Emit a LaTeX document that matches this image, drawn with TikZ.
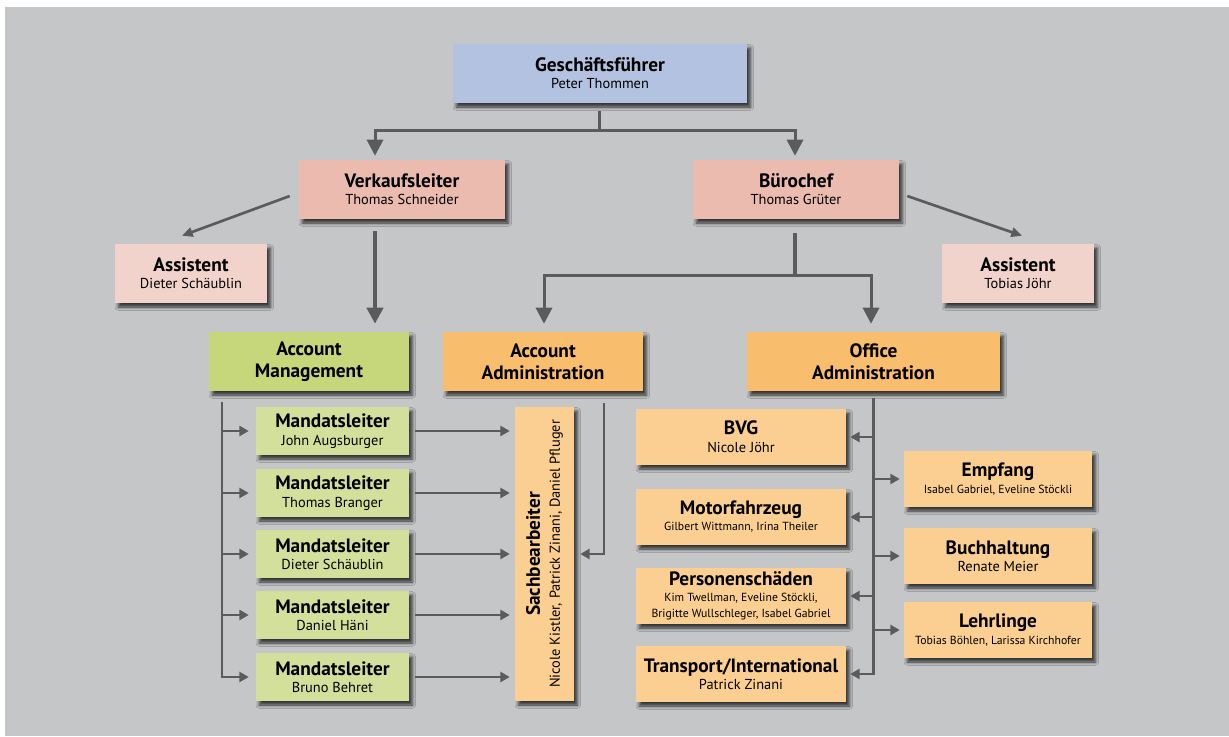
\documentclass[tikz,border=0pt]{standalone}
\usepackage{fontspec}
\setmainfont{PT Sans}
\usetikzlibrary{arrows.meta,calc,shadows.blur}
\definecolor{bgc}{HTML}{C5C6C8}
\definecolor{blueb}{HTML}{B3C2E0}
\definecolor{rose}{HTML}{EBBBB0}
\definecolor{rosel}{HTML}{F2D3CB}
\definecolor{greend}{HTML}{C5D67B}
\definecolor{greenl}{HTML}{D3E09B}
\definecolor{orangd}{HTML}{F8BD6D}
\definecolor{orangl}{HTML}{FBCF91}
\definecolor{linec}{HTML}{5B5B5D}
\newcommand{\ttl}[1]{{\fontsize{14.5}{16.5}\selectfont\bfseries #1}}
\newcommand{\nm}[1]{{\fontsize{10.8}{12}\selectfont #1}}
\newcommand{\sm}[1]{{\fontsize{8.8}{12}\selectfont #1}}
\tikzset{
  box/.style={draw=none, inner sep=0pt, align=center, text=black,
    blur shadow={shadow xshift=2.5pt, shadow yshift=-3pt, shadow opacity=75, shadow blur radius=2.5pt}},
  sz/.style 2 args={minimum width=#1*0.75pt, minimum height=#2*0.75pt},
  conn/.style={draw=linec, line width=2.25pt},
  bigarr/.style={conn, -{Triangle[length=12pt,width=12pt]}},
  midarr/.style={draw=linec, line width=2pt, -{Triangle[length=8pt,width=7pt]}},
  smarr/.style={draw=linec, line width=2pt, -{Triangle[length=7pt,width=7.5pt]}},
}
\begin{document}
\begin{tikzpicture}[x=0.75pt,y=-0.75pt]
\useasboundingbox (0,0) rectangle (1229,736);
\fill[white] (0,0) rectangle (1229,736);
\fill[bgc] (5,7) rectangle (1229,736);

% level 1
\node[box, fill=blueb, sz={294}{59}] (gf) at (600,73.5) {\ttl{Geschäftsführer}\\[0.8pt]\nm{Peter Thommen}};
% level 2
\node[box, fill=rose, sz={206}{59}] (vk) at (402,189.5) {\ttl{Verkaufsleiter}\\[0.8pt]\nm{Thomas Schneider}};
\node[box, fill=rose, sz={206}{59}] (bc) at (796,189.5) {\ttl{Bürochef}\\[0.8pt]\nm{Thomas Grüter}};
\node[box, fill=rosel, sz={152}{59}] (as1) at (191,273.5) {\ttl{Assistent}\\[0.8pt]\nm{Dieter Schäublin}};
\node[box, fill=rosel, sz={152}{59}] (as2) at (1018,273.5) {\ttl{Assistent}\\[0.8pt]\nm{Tobias Jöhr}};
% level 3
\node[box, fill=greend, sz={200}{59}] (am) at (309,361.5) {\ttl{Account}\\[4.5pt]\ttl{Management}};
\node[box, fill=orangd, sz={200}{59}] (aa) at (543,361.5) {\ttl{Account}\\[4.5pt]\ttl{Administration}};
\node[box, fill=orangd, sz={253}{59}] (oa) at (873.5,361.5) {\ttl{Office}\\[4.5pt]\ttl{Administration}};
% Mandatsleiter
\node[box, fill=greenl, sz={153}{48}] (m1) at (332.5,431) {\ttl{Mandatsleiter}\\[1pt]\nm{John Augsburger}};
\node[box, fill=greenl, sz={153}{48}] (m2) at (332.5,493) {\ttl{Mandatsleiter}\\[1pt]\nm{Thomas Branger}};
\node[box, fill=greenl, sz={153}{48}] (m3) at (332.5,554) {\ttl{Mandatsleiter}\\[1pt]\nm{Dieter Schäublin}};
\node[box, fill=greenl, sz={153}{48}] (m4) at (332.5,615) {\ttl{Mandatsleiter}\\[1pt]\nm{Daniel Häni}};
\node[box, fill=greenl, sz={153}{48}] (m5) at (332.5,677) {\ttl{Mandatsleiter}\\[1pt]\nm{Bruno Behret}};
% Sachbearbeiter
\node[box, fill=orangl, sz={59}{294}] (sb) at (544.5,554) {};
\node[align=center, rotate=90, inner sep=0pt] (sbt) at (sb.center) {\ttl{Sachbearbeiter}\\[3pt]\nm{Nicole Kistler, Patrick Zinani, Daniel Pfluger}};
% Office left
\node[box, fill=orangl, sz={210}{56}] (bvg) at (741,437) {\ttl{BVG}\\[1.5pt]\nm{Nicole Jöhr}};
\node[box, fill=orangl, sz={210}{56}] (mf) at (741,517) {\ttl{Motorfahrzeug}\\[0pt]\sm{Gilbert Wittmann, Irina Theiler}};
\node[box, fill=orangl, sz={210}{56}] (ps) at (741,596) {\ttl{Personenschäden}\\[0pt]\sm{Kim Twellman, Eveline Stöckli,}\\[0pt]\sm{Brigitte Wullschleger, Isabel Gabriel}};
\node[box, fill=orangl, sz={210}{56}] (tr) at (741,674) {\ttl{Transport/International}\\[0.8pt]\nm{Patrick Zinani}};
% Office right
\node[box, fill=orangl, sz={188}{56}] (em) at (998,479) {\ttl{Empfang}\\[0.8pt]\sm{Isabel Gabriel, Eveline Stöckli}};
\node[box, fill=orangl, sz={188}{56}] (bh) at (998,556) {\ttl{Buchhaltung}\\[0.8pt]\nm{Renate Meier}};
\node[box, fill=orangl, sz={188}{56}] (lh) at (998,630) {\ttl{Lehrlinge}\\[0.8pt]\sm{Tobias Böhlen, Larissa Kirchhofer}};

% connectors level 1 -> 2
\coordinate (jt) at ($(gf.south)+(-1,27)$);
\draw[conn] ($(gf.south)+(-1,8)$) -- (jt);
\draw[bigarr] (jt) -| ($(vk.north)+(-27,-4)$);
\draw[bigarr] (jt) -| ($(bc.north)+(-1,-4)$);
% assistants
\draw[midarr] ($(vk.west)+(-9,6.5)$) -- ($(as1.north)+(-9,-8)$);
\draw[midarr] ($(bc.east)+(8,6.5)$) -- ($(as2.north)+(4,-8)$);
% Verkaufsleiter -> Account Management
\draw[conn, line width=3pt, -{Triangle[length=12pt,width=12pt]}] ($(vk.south)+(-27,12)$) -- ($(am.north)+(66,-8)$);
% Buerochef -> administrations
\coordinate (jb) at ($(bc.south)+(-1,56)$);
\draw[conn, line width=3pt] ($(bc.south)+(-1,14)$) -- (jb);
\draw[bigarr] (jb) -| ($(aa.north)+(1,-8)$);
\draw[bigarr] (jb) -| ($(oa.north)+(-2.5,-8)$);

% Account Management -> Mandatsleiter
\coordinate (amv) at ($(am.south)+(-87,11)$);
\draw[smarr] (amv) |- ($(m5.west)+(-7,0)$);
\foreach \m in {m1,m2,m3,m4}{
  \draw[smarr] (amv |- \m.west) -- ($(\m.west)+(-7,0)$);
}
% Mandatsleiter -> Sachbearbeiter
\foreach \m in {m1,m2,m3,m4,m5}{
  \draw[smarr] ($(\m.east)+(6,0)$) -- ($(\m.east -| sb.west)+(-5,0)$);
}
% Account Administration -> Sachbearbeiter
\draw[smarr] ($(aa.south)+(61,12)$) |- ($(sb.east)+(6,0)$);

% Office Administration
\coordinate (oav) at ($(oa.south)+(0,7)$);
\draw[smarr] (oav) |- ($(tr.east)+(4,0)$);
\foreach \m in {bvg,mf,ps}{
  \draw[smarr] (oav |- \m.east) -- ($(\m.east)+(4,0)$);
}
\foreach \m in {em,bh,lh}{
  \draw[smarr] (oav |- \m.west) -- ($(\m.west)+(-4,0)$);
}
\end{tikzpicture}
\end{document}
